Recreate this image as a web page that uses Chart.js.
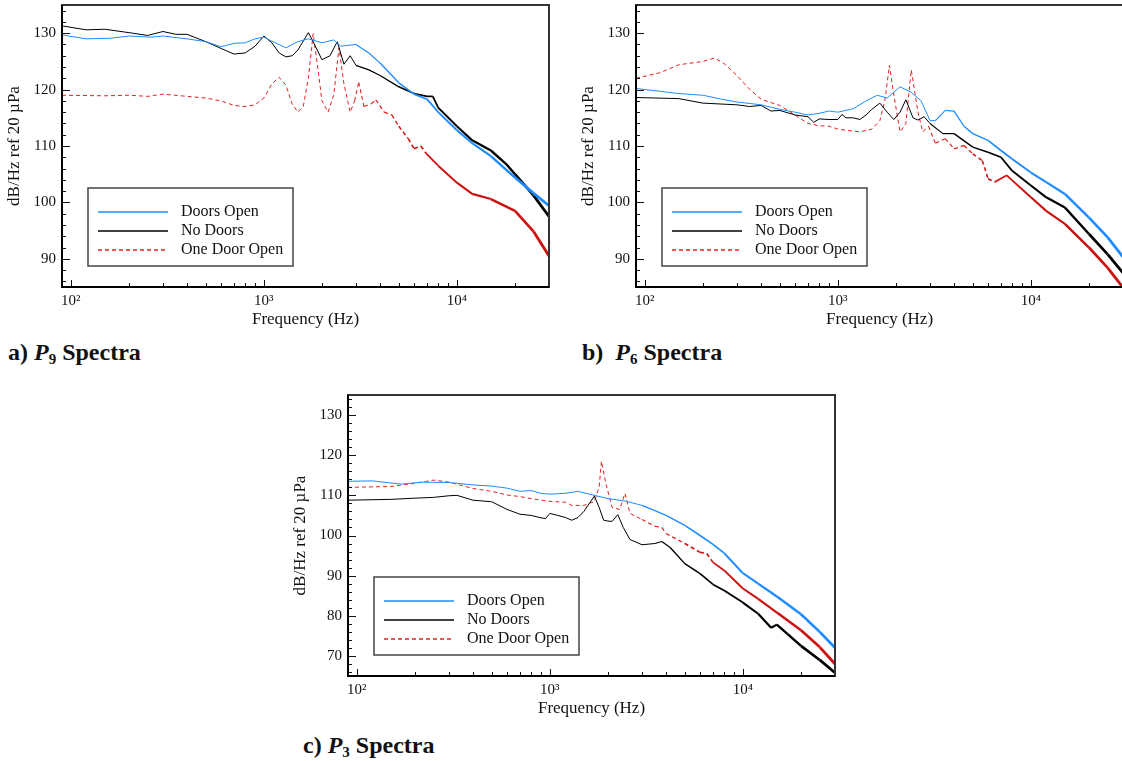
<!DOCTYPE html>
<html>
<head>
<meta charset="utf-8">
<script src="https://cdn.jsdelivr.net/npm/chart.js@4.4.1/dist/chart.umd.min.js"></script>
<style>
  html, body { margin: 0; padding: 0; background: #fff; overflow: hidden; }
  body { width: 1122px; height: 761px; position: relative; }
  .panel { position: absolute; }
  .cap { position: absolute; font-family: "Liberation Serif", serif; font-weight: bold; font-size: 24px; line-height: 28px; color: #111; white-space: pre; }
  .cap sub { font-size: 15px; vertical-align: -4px; line-height: 0; }
</style>
</head>
<body>
<div class="panel" style="left:0;top:0;width:560px;height:333px"><canvas id="p9"></canvas></div>
<div class="panel" style="left:574px;top:0;width:560px;height:333px"><canvas id="p6"></canvas></div>
<div class="panel" style="left:286px;top:390px;width:560px;height:332px"><canvas id="p3"></canvas></div>
<div class="cap" style="left:8px;top:338px">a) <i>P</i><sub>9</sub> Spectra</div>
<div class="cap" style="left:582px;top:338px">b)  <i>P</i><sub>6</sub> Spectra</div>
<div class="cap" style="left:303px;top:731px">c) <i>P</i><sub>3</sub> Spectra</div>
<script>
const xTicks = [100, 1000, 10000];
const xTickText = ["10²", "10³", "10⁴"];
const yTicksP9 = [90, 100, 110, 120, 130];
const yTicksP3 = [70, 80, 90, 100, 110, 120, 130];
const seriesNames = ["Doors Open", "No Doors", "One Door Open"];

// a) P9
const p9OpenHz = [90, 120, 160, 200, 260, 300, 400, 500, 600, 700, 800, 900, 1000, 1100, 1300, 1500, 1700, 2000, 2300, 2500, 3000, 3500, 4000, 5000, 6000, 7000, 8000, 10000, 12000, 15000, 20000, 25000, 30000];
const p9OpenDb = [129.7, 129.0, 129.1, 129.5, 129.3, 129.5, 129.0, 128.5, 127.6, 128.2, 128.3, 129.0, 129.3, 128.6, 127.4, 128.5, 129.0, 128.3, 128.8, 127.7, 128.0, 126.5, 124.7, 121.2, 119.2, 118.3, 116.0, 112.8, 110.5, 108.2, 104.4, 101.6, 99.4];
const p9NoneHz = [90, 120, 150, 200, 250, 300, 350, 400, 500, 600, 700, 800, 900, 1000, 1100, 1200, 1300, 1400, 1500, 1700, 1800, 2000, 2200, 2400, 2600, 2800, 3000, 3500, 4000, 5000, 6000, 7000, 7500, 8000, 10000, 12000, 15000, 18000, 20000, 25000, 30000];
const p9NoneDb = [131.3, 130.6, 130.7, 130.1, 129.6, 130.3, 129.8, 129.8, 128.5, 127.3, 126.3, 126.5, 127.7, 129.5, 128.3, 126.5, 125.8, 126.0, 127.0, 130.1, 128.5, 125.3, 126.0, 128.5, 124.5, 126.0, 124.3, 123.5, 122.5, 120.5, 119.3, 118.8, 118.8, 116.8, 113.5, 111.0, 109.2, 106.8, 105.0, 101.2, 97.5];
const p9OneHz = [90, 150, 200, 250, 300, 400, 500, 600, 700, 800, 900, 1000, 1100, 1200, 1300, 1400, 1500, 1600, 1700, 1800, 1900, 2000, 2150, 2300, 2450, 2600, 2800, 2950, 3100, 3300, 3600, 3800, 4200, 4600, 5000, 5600, 6000, 6500, 7000, 8000, 10000, 12000, 15000, 20000, 25000, 30000];
const p9OneDb = [119.0, 118.9, 119.0, 118.8, 119.2, 118.8, 118.5, 118.0, 117.2, 117.0, 117.3, 118.5, 121.0, 122.2, 120.8, 117.5, 116.0, 117.0, 122.0, 129.9, 124.0, 118.0, 116.0, 119.0, 127.4, 121.0, 116.0, 118.0, 121.3, 117.0, 117.5, 118.2, 116.0, 115.5, 113.5, 111.3, 109.5, 110.0, 108.5, 106.5, 103.5, 101.5, 100.6, 98.5, 94.8, 90.5];

// b) P6
const p6OpenHz = [90, 150, 200, 250, 300, 400, 500, 600, 700, 800, 900, 1000, 1200, 1400, 1600, 1800, 2100, 2400, 2700, 3000, 3200, 3600, 4000, 4500, 5000, 6000, 7000, 8000, 10000, 12000, 15000, 20000, 25000, 30000];
const p6OpenDb = [120.2, 119.3, 119.0, 118.3, 117.8, 117.3, 116.5, 116.0, 115.5, 115.8, 116.2, 116.0, 116.6, 118.0, 119.0, 118.5, 120.5, 119.5, 118.0, 114.5, 114.5, 116.3, 116.2, 113.5, 112.2, 111.0, 109.2, 107.7, 105.3, 103.6, 101.5, 97.3, 93.8, 90.3];
const p6NoneHz = [90, 150, 200, 300, 350, 400, 450, 500, 600, 700, 750, 800, 900, 1000, 1050, 1100, 1200, 1300, 1400, 1500, 1650, 1800, 1950, 2100, 2250, 2450, 2600, 2800, 3000, 3500, 4000, 5000, 6000, 7000, 8000, 10000, 12000, 15000, 20000, 25000, 30000];
const p6NoneDb = [118.6, 118.4, 117.6, 117.3, 117.0, 117.2, 116.2, 116.3, 115.5, 115.2, 114.2, 114.8, 114.7, 114.7, 115.6, 115.0, 115.0, 114.7, 115.5, 116.5, 117.6, 116.0, 114.7, 116.0, 118.2, 115.0, 114.6, 115.2, 114.0, 112.2, 112.2, 109.8, 108.9, 108.0, 105.6, 103.0, 100.9, 99.1, 94.4, 90.8, 87.5];
const p6OneHz = [90, 120, 150, 200, 230, 260, 300, 350, 400, 450, 500, 600, 700, 800, 900, 1000, 1100, 1300, 1500, 1650, 1750, 1850, 1950, 2100, 2250, 2400, 2600, 2750, 2950, 3200, 3600, 4000, 4500, 5000, 5600, 6000, 6500, 7500, 8000, 10000, 12000, 15000, 20000, 25000, 30000];
const p6OneDb = [122.0, 123.0, 124.4, 125.0, 125.6, 124.5, 122.5, 120.0, 118.3, 117.7, 117.2, 115.5, 114.0, 113.6, 113.5, 113.0, 112.8, 112.5, 113.0, 114.5, 118.0, 124.3, 119.0, 112.5, 114.0, 123.5, 116.0, 112.5, 113.5, 110.5, 111.3, 109.5, 110.1, 108.6, 107.4, 104.2, 103.6, 104.8, 103.9, 100.9, 98.5, 96.2, 92.0, 88.4, 84.9];

// c) P3
const p3OpenHz = [90, 120, 170, 220, 300, 400, 500, 600, 700, 800, 900, 1000, 1200, 1400, 1600, 2000, 2500, 3000, 3500, 4000, 5000, 6000, 7000, 8000, 10000, 12000, 15000, 20000, 25000, 30000];
const p3OpenDb = [113.5, 113.6, 112.8, 113.3, 113.2, 112.6, 112.3, 111.8, 111.0, 111.2, 110.5, 110.3, 110.5, 111.0, 110.3, 109.2, 108.5, 107.5, 106.2, 105.0, 102.5, 100.0, 97.8, 95.6, 90.6, 88.0, 84.8, 80.4, 76.0, 72.0];
const p3NoneHz = [90, 150, 200, 250, 300, 330, 400, 500, 600, 700, 800, 900, 950, 1000, 1100, 1200, 1300, 1400, 1500, 1700, 1800, 1900, 2000, 2100, 2250, 2400, 2600, 3000, 3500, 3800, 4200, 5000, 6000, 7000, 8000, 10000, 12000, 14000, 15000, 17000, 20000, 25000, 30000];
const p3NoneDb = [108.8, 109.0, 109.3, 109.5, 109.9, 110.0, 108.8, 108.4, 106.5, 105.3, 105.0, 104.4, 104.2, 105.5, 105.0, 104.5, 103.8, 104.5, 106.0, 109.8, 107.0, 103.8, 103.6, 103.5, 105.2, 102.0, 99.0, 97.7, 98.0, 98.5, 97.0, 93.0, 90.5, 87.8, 86.3, 83.3, 80.5, 77.0, 77.8, 75.5, 72.5, 69.0, 65.8];
const p3OneHz = [90, 150, 200, 250, 300, 400, 500, 600, 700, 800, 1000, 1200, 1300, 1500, 1700, 1800, 1850, 1950, 2100, 2300, 2450, 2600, 3000, 3500, 3800, 4000, 5000, 6000, 6500, 7000, 8000, 10000, 12000, 15000, 20000, 25000, 30000];
const p3OneDb = [112.0, 112.2, 113.0, 113.8, 113.3, 111.7, 111.0, 110.1, 109.7, 109.2, 108.5, 108.3, 107.5, 107.5, 108.5, 112.0, 118.5, 113.0, 107.0, 106.5, 110.5, 105.5, 104.0, 102.3, 102.0, 100.5, 98.0, 95.8, 95.5, 93.3, 91.3, 86.8, 84.2, 80.8, 76.4, 72.2, 68.0];

Chart.defaults.font.family = "'Liberation Serif', 'Times New Roman', serif";
Chart.defaults.color = "#111";

const lineColors = ["#1e8cff", "#000000", "#e02222"];
const lineDash = [[], [], [4, 3]];

// spectra get denser/noisier at high frequency, so the trace looks heavier
function traceWidth(f) {
  return f < 3000 ? 1 : 1 + 1.8 * Math.log10(f / 3000);
}

const frame = {
  id: "frame",
  afterDatasetsDraw(chart) {
    const { ctx, chartArea: a, scales } = chart;
    const x = scales.x, y = scales.y;
    ctx.save();
    ctx.strokeStyle = "#111";
    ctx.lineWidth = 1;
    // inward ticks, y every 2
    for (let v = Math.ceil(y.min); v <= y.max; v++) {
      if (v % 2) continue;
      const py = Math.round(y.getPixelForValue(v)) + 0.5;
      const len = v % 10 === 0 ? 8 : 4;
      ctx.beginPath(); ctx.moveTo(a.left, py); ctx.lineTo(a.left + len, py); ctx.stroke();
    }
    // inward ticks, x log decades
    for (let d = 10; d <= 10000; d *= 10) {
      for (let m = 1; m <= 9; m++) {
        const f = m * d;
        if (f < x.min || f > x.max) continue;
        const px = Math.round(x.getPixelForValue(f)) + 0.5;
        const len = m === 1 ? 7 : 4;
        ctx.beginPath(); ctx.moveTo(px, a.bottom); ctx.lineTo(px, a.bottom - len); ctx.stroke();
      }
    }
    // frame
    ctx.strokeStyle = "#333";
    ctx.lineWidth = 2;
    ctx.strokeRect(a.left, a.top, a.right - a.left, a.bottom - a.top);
    ctx.strokeStyle = "#000";
    ctx.beginPath();
    ctx.moveTo(a.left, a.top); ctx.lineTo(a.left, a.bottom); ctx.lineTo(a.right, a.bottom);
    ctx.stroke();
    ctx.restore();
  },
  afterDraw(chart) {
    // legend box inside the plot, lower left
    const { ctx, chartArea: a } = chart;
    const bx = a.left + 26, bw = 205, bh = 78, by = a.bottom - 21 - bh;
    ctx.save();
    ctx.fillStyle = "#fff";
    ctx.fillRect(bx, by, bw, bh);
    ctx.strokeStyle = "#444";
    ctx.lineWidth = 1.5;
    ctx.strokeRect(bx, by, bw, bh);
    ctx.font = "16px 'Liberation Serif', serif";
    ctx.textBaseline = "middle";
    chart.data.datasets.forEach((ds, i) => {
      const ry = by + 24 + i * 19;
      ctx.strokeStyle = lineColors[i];
      ctx.lineWidth = 1.3;
      ctx.setLineDash(lineDash[i]);
      ctx.beginPath(); ctx.moveTo(bx + 10, ry); ctx.lineTo(bx + 80, ry); ctx.stroke();
      ctx.setLineDash([]);
      ctx.fillStyle = "#111";
      ctx.fillText(ds.label, bx + 93, ry);
    });
    ctx.restore();
  }
};

function makeChart(id, series, yMin, yMax, yTicks) {
  return new Chart(document.getElementById(id), {
    type: "line",
    data: {
      datasets: series.map((s, i) => ({
        label: seriesNames[i],
        data: s[0].map((hz, j) => ({ x: hz, y: s[1][j] })),
        borderColor: lineColors[i],
        borderWidth: 1,
        borderDash: lineDash[i],
        pointRadius: 0,
        tension: 0,
        segment: {
          borderWidth: (c) => traceWidth(c.p1.parsed.x),
          borderDash: (c) => (i === 2 && c.p1.parsed.x > 7000 ? [] : lineDash[i]),
          borderColor: (c) => (i === 2 && c.p1.parsed.x > 5000 ? "#cc1111" : lineColors[i]),
        },
      })),
    },
    options: {
      responsive: true,
      maintainAspectRatio: false,
      animation: false,
      layout: { padding: { top: 5, right: 11, left: 0, bottom: 0 } },
      plugins: { legend: { display: false }, tooltip: { enabled: false } },
      scales: {
        x: {
          type: "logarithmic",
          min: 90,
          max: 30000,
          afterBuildTicks: (s) => { s.ticks = xTicks.map((v) => ({ value: v })); },
          afterFit: (s) => { s.height = 46; s.paddingLeft = 0; s.paddingRight = 0; },
          grid: { display: false, drawTicks: false },
          border: { display: false },
          ticks: {
            autoSkip: false,
            maxRotation: 0,
            padding: 5,
            font: { size: 15 },
            callback: (v) => xTickText[xTicks.indexOf(v)] || "",
          },
          title: { display: true, text: "Frequency (Hz)", font: { size: 17 }, padding: { top: 3, bottom: 3 } },
        },
        y: {
          min: yMin,
          max: yMax,
          afterBuildTicks: (s) => { s.ticks = yTicks.map((v) => ({ value: v })); },
          afterFit: (s) => { s.width = 62; s.paddingTop = 0; s.paddingBottom = 0; },
          grid: { display: false, drawTicks: false },
          border: { display: false },
          ticks: { padding: 6, font: { size: 15 } },
          title: { display: true, text: "dB/Hz ref 20 µPa", font: { size: 17 }, padding: { top: 4, bottom: 4 } },
        },
      },
    },
    plugins: [frame],
  });
}

makeChart("p9", [[p9OpenHz, p9OpenDb], [p9NoneHz, p9NoneDb], [p9OneHz, p9OneDb]], 85, 135, yTicksP9);
makeChart("p6", [[p6OpenHz, p6OpenDb], [p6NoneHz, p6NoneDb], [p6OneHz, p6OneDb]], 85, 135, yTicksP9);
makeChart("p3", [[p3OpenHz, p3OpenDb], [p3NoneHz, p3NoneDb], [p3OneHz, p3OneDb]], 65, 135, yTicksP3);
</script>
</body>
</html>
